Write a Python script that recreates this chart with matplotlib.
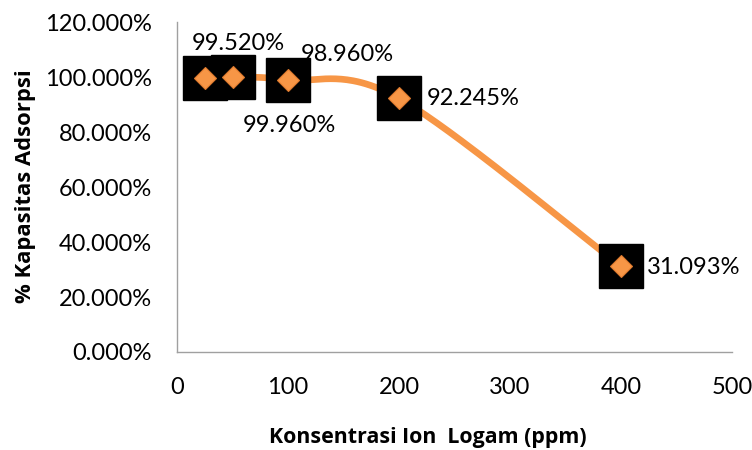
import numpy as np
import matplotlib
matplotlib.use("Agg")
import matplotlib.pyplot as plt
from matplotlib.ticker import FuncFormatter

# ---- data ----
conc = [25, 50, 100, 200, 400]
capacity = [99.520, 99.960, 98.960, 92.245, 31.093]
# label offsets (points) relative to each data point, and horizontal alignment
label_dx = [24, 41, 43, 20, 19]
label_dy = [25, -35, 18, 0, -1]
label_ha = ["center", "center", "center", "left", "left"]
xticks = [0, 100, 200, 300, 400, 500]
yticks = [0, 20, 40, 60, 80, 100, 120]
xlabel = "Konsentrasi Ion  Logam (ppm)"
ylabel = "% Kapasitas Adsorpsi"

plt.rcParams['font.family'] = ['Lato', 'DejaVu Sans']

fig = plt.figure(figsize=(7.52, 4.5), dpi=100)
ax = fig.add_axes([177/752, 1-352/450, (732-177)/752, (352-22)/450])
ax.set_xlim(0, 500)
ax.set_ylim(0, 120)
ax.set_xticks(xticks)
ax.set_yticks(yticks)
ax.yaxis.set_major_formatter(FuncFormatter(lambda v, p: f"{v:.3f}%"))
ax.tick_params(axis='both', length=0, labelsize=17, colors='black')
ax.tick_params(axis='y', pad=18)
ax.tick_params(axis='x', pad=18)
for s in ['top', 'right']:
    ax.spines[s].set_visible(False)
for s in ['left', 'bottom']:
    ax.spines[s].set_color('#A0A0A0')
    ax.spines[s].set_linewidth(1.0)

# smooth line (Catmull-Rom in display space)
fig.canvas.draw()
pts = ax.transData.transform(np.column_stack([conc, capacity]))
P = np.vstack([pts[0], pts, pts[-1]])
curve = []
for i in range(1, len(P) - 2):
    p0, p1, p2, p3 = P[i-1], P[i], P[i+1], P[i+2]
    t = np.linspace(0, 1, 60)[:, None]
    seg = 0.5 * ((2*p1) + (-p0 + p2)*t + (2*p0 - 5*p1 + 4*p2 - p3)*t**2
                 + (-p0 + 3*p1 - 3*p2 + p3)*t**3)
    curve.append(seg)
curve = np.vstack(curve)
cd = ax.transData.inverted().transform(curve)
ax.plot(cd[:, 0], cd[:, 1], color='#F79646', lw=4.8, solid_capstyle='butt', zorder=2, clip_on=False)

ax.plot(conc, capacity, ls='none', marker='s', ms=31.5, mfc='black', mec='black', zorder=3, clip_on=False)
ax.plot(conc, capacity, ls='none', marker='D', ms=11.2, mfc='#F79646', mec='#E07B2E', mew=0.8, zorder=4, clip_on=False)

for x, y, dx, dy, ha in zip(conc, capacity, label_dx, label_dy, label_ha):
    ax.annotate(f"{y:.3f}%", (x, y), xytext=(dx, dy), textcoords='offset points',
                ha=ha, va='center', fontsize=17, color='black', zorder=5)

fig.text(26/752, 1-186/450, ylabel, rotation=90, ha='center', va='center',
         fontsize=15.8, fontweight='bold', family=['Open Sans', 'DejaVu Sans'])
fig.text(428/752, 1-438/450, xlabel, ha='center', va='center',
         fontsize=15.4, fontweight='bold', family=['Open Sans', 'DejaVu Sans'])

fig.savefig('out.png', dpi=100)
